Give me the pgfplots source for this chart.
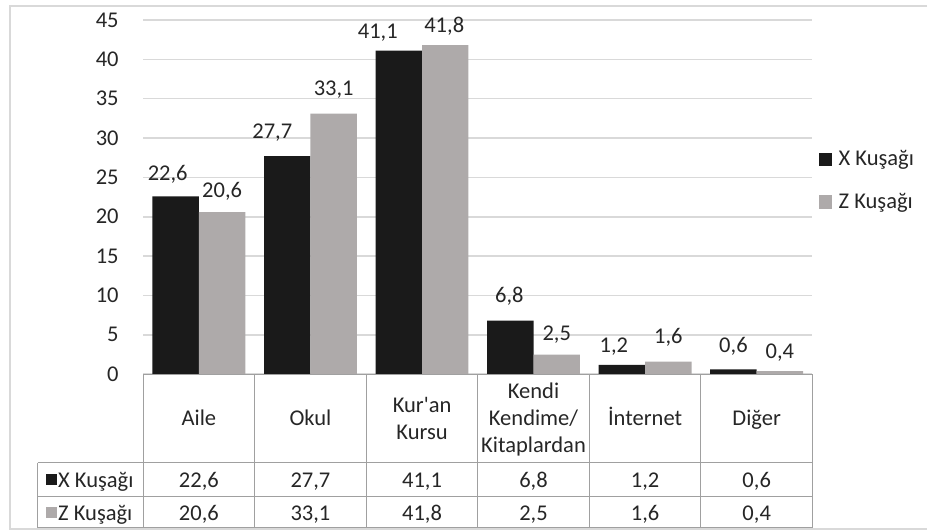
\documentclass[border=0pt]{standalone}
\usepackage{fontspec}
\setmainfont{Carlito}
\usepackage{pgfplots}
\usepackage{pgfplotstable}
\pgfplotsset{compat=1.18}

\definecolor{barX}{HTML}{1A1A1A}
\definecolor{barZ}{HTML}{AEAAAA}
\definecolor{gridc}{HTML}{D9D9D9}
\definecolor{tline}{HTML}{A0A0A0}
\definecolor{txt}{HTML}{262626}

\newcommand\cfont{\fontsize{16.9}{20.25}\selectfont}

% value, then label offsets in px (Excel put some labels off-centre)
\pgfplotstableread{
x y dx dy
0 22.6 -8 16
1 27.7 -15 18
2 41.1 -21 12
3 6.8 -1 18
4 1.2 -8 12
5 0.6 0 16.7
}\dataX
\pgfplotstableread{
x y dx dy
0 20.6 0 15
1 33.1 0 17.7
2 41.8 -1 13
3 2.5 0 13.7
4 1.6 0 18.4
5 0.4 0 12.7
}\dataZ

\begin{document}
\begin{tikzpicture}
\begin{axis}[
  at={(107.475pt,-280.95pt)}, anchor=south west,
  scale only axis,
  width=502.5pt, height=265.95pt,
  xmin=-0.5, xmax=5.5,
  ymin=0, ymax=45,
  ytick={0,5,...,45},
  xtick=\empty,
  ymajorgrids=true,
  grid style={gridc, line width=1.1pt},
  axis line style={draw=none},
  major tick length=0pt,
  /pgf/number format/assume math mode=true,
  /pgf/number format/use comma,
  yticklabel style={font=\cfont, text=txt, anchor=east, inner sep=0pt, xshift=-18.2pt},
  ybar=0pt,
  bar width=0.4163,
  clip=false,
  nodes near coords,
  nodes near coords style={font=\cfont, text=txt, inner sep=0pt,
    /pgf/number format/fixed, /pgf/number format/fixed zerofill,
    /pgf/number format/precision=1},
  visualization depends on={\thisrow{dx} \as \dx},
  visualization depends on={\thisrow{dy} \as \dy},
  every node near coord/.append style={anchor=base,
    xshift={\dx*0.75pt}, yshift={\dy*0.75pt}},
]
\addplot[fill=barX, draw=none] table[x=x, y=y] {\dataX};
\addplot[fill=barZ, draw=none] table[x=x, y=y] {\dataZ};
\end{axis}

\begin{scope}[x=0.75pt, y=-0.75pt]
  \path (0,0) rectangle (928,531);
  % outer chart frame (right side runs off the picture)
  \draw[gridc, line width=1.5pt] (928,6) -- (10,6) -- (10,529.5) -- (928,529.5);

  % data table grid
  \begin{scope}[tline, line width=0.75pt]
    \draw (143.3,374.6) -- (813.3,374.6);
    \foreach \k in {0,...,6}
      \draw ({143.3+111.667*\k},374.6) -- ({143.3+111.667*\k},528.5);
    \draw (38,463) -- (813.3,463);
    \draw (38,497) -- (813.3,497);
    \draw (38,528.5) -- (813.3,528.5);
    \draw (38,463) -- (38,528.5);
  \end{scope}

  \begin{scope}[every node/.style={font=\cfont, text=txt, inner sep=0pt, anchor=base}]
    % category headers
    \node at (199.1,426) {Aile};
    \node at (310.8,426) {Okul};
    \node at (422.5,413.3) {Kur\textquotesingle an};
    \node at (422.5,440) {Kursu};
    \node at (534.1,399.3) {Kendi};
    \node at (534.1,426) {Kendime/};
    \node at (534.1,452.7) {Kitaplardan};
    \node at (645.8,426) {İnternet};
    \node at (757.5,426) {Diğer};
    % row X
    \node at (199.1,488) {22,6};
    \node at (310.8,488) {27,7};
    \node at (422.5,488) {41,1};
    \node at (534.1,488) {6,8};
    \node at (645.8,488) {1,2};
    \node at (757.5,488) {0,6};
    % row Z
    \node at (199.1,521.5) {20,6};
    \node at (310.8,521.5) {33,1};
    \node at (422.5,521.5) {41,8};
    \node at (534.1,521.5) {2,5};
    \node at (645.8,521.5) {1,6};
    \node at (757.5,521.5) {0,4};
    % row keys
    \fill[barX] (45.7,474.7) rectangle (56.7,485.7);
    \node[anchor=base west] at (58,488) {X Kuşağı};
    \fill[barZ] (45.7,507.3) rectangle (56.7,518.3);
    \node[anchor=base west] at (58,521.5) {Z Kuşağı};
    % legend
    \fill[barX] (820,153.3) rectangle (833.3,165.7);
    \node[anchor=base west] at (839.3,166) {X Kuşağı};
    \fill[barZ] (820,195.7) rectangle (833.3,209);
    \node[anchor=base west] at (839.3,209) {Z Kuşağı};
  \end{scope}
\end{scope}
\end{tikzpicture}
\end{document}
